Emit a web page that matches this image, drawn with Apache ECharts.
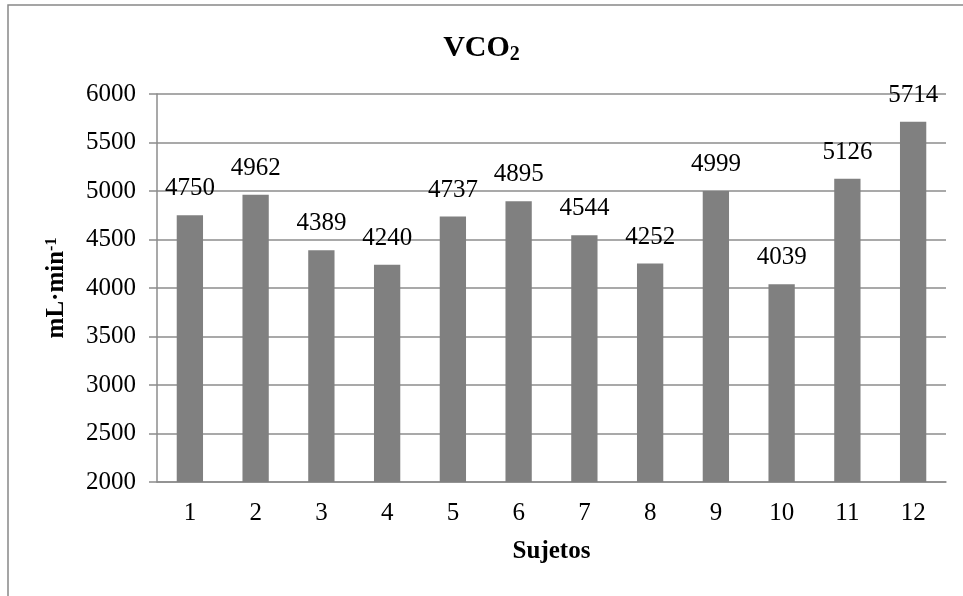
<!DOCTYPE html>
<html>
<head>
<meta charset="utf-8">
<script src="https://cdn.jsdelivr.net/npm/echarts@6/dist/echarts.min.js"></script>
<style>
  html, body { margin: 0; padding: 0; background: #fff; }
  #chart { width: 963px; height: 596px; }
</style>
</head>
<body>
<div id="chart"></div>
<script>
// sujetos y valores de VCO2 (mL·min-1)
var sujetos = ['1', '2', '3', '4', '5', '6', '7', '8', '9', '10', '11', '12']
var vco2 = [4750, 4962, 4389, 4240, 4737, 4895, 4544, 4252, 4999, 4039, 5126, 5714]
var yMin = 2000
var yMax = 6000
var yStep = 500

var font = '"Liberation Serif", "Times New Roman", serif'
var gris = '#8c8c8c'

var chart = echarts.init(document.getElementById('chart'))
var option = {
  backgroundColor: '#fff',
  animation: false,
  title: {
    text: 'VCO{sub|2}',
    left: 'center',
    top: 26,
    textStyle: {
      fontFamily: font,
      fontWeight: 'bold',
      fontSize: 30,
      color: '#000',
      rich: {
        sub: {
          fontFamily: font,
          fontWeight: 'bold',
          fontSize: 20,
          color: '#000',
          padding: [14, 0, 0, 0]
        }
      }
    }
  },
  graphic: [{
    type: 'rect',
    shape: { x: 8, y: 5, width: 1000, height: 700 },
    style: { fill: 'none', stroke: '#888', lineWidth: 1.5 },
    silent: true
  }],
  grid: {
    left: 157,
    right: 17,
    top: 94,
    bottom: 114
  },
  xAxis: {
    type: 'category',
    data: sujetos,
    name: 'Sujetos',
    nameLocation: 'middle',
    nameGap: 57,
    nameTextStyle: {
      fontFamily: font,
      fontWeight: 'bold',
      fontSize: 25,
      color: '#000'
    },
    axisLine: { lineStyle: { color: gris, width: 1.5 } },
    axisTick: { show: false },
    axisLabel: {
      fontFamily: font,
      fontSize: 25,
      color: '#000',
      margin: 19
    }
  },
  yAxis: {
    type: 'value',
    min: yMin,
    max: yMax,
    interval: yStep,
    name: 'mL·min{sup|-1}',
    nameLocation: 'middle',
    nameGap: 87,
    nameRotate: 90,
    nameTextStyle: {
      fontFamily: font,
      fontWeight: 'bold',
      fontSize: 25,
      color: '#000',
      rich: {
        sup: {
          fontFamily: font,
          fontWeight: 'bold',
          fontSize: 16,
          color: '#000',
          padding: [0, 0, 10, 0]
        }
      }
    },
    axisLine: { show: true, lineStyle: { color: gris, width: 1.5 } },
    axisTick: { show: true, length: 8, lineStyle: { color: gris, width: 1.5 } },
    splitLine: { lineStyle: { color: gris, width: 1.5 } },
    axisLabel: {
      fontFamily: font,
      fontSize: 25,
      color: '#000',
      margin: 21,
      formatter: function (v) { return String(v) }
    }
  },
  series: [{
    type: 'bar',
    data: vco2,
    barWidth: '40%',
    itemStyle: { color: '#808080' },
    label: {
      show: true,
      position: 'top',
      distance: 14,
      fontFamily: font,
      fontSize: 25,
      color: '#000'
    }
  }]
}
chart.setOption(option)
</script>
</body>
</html>
